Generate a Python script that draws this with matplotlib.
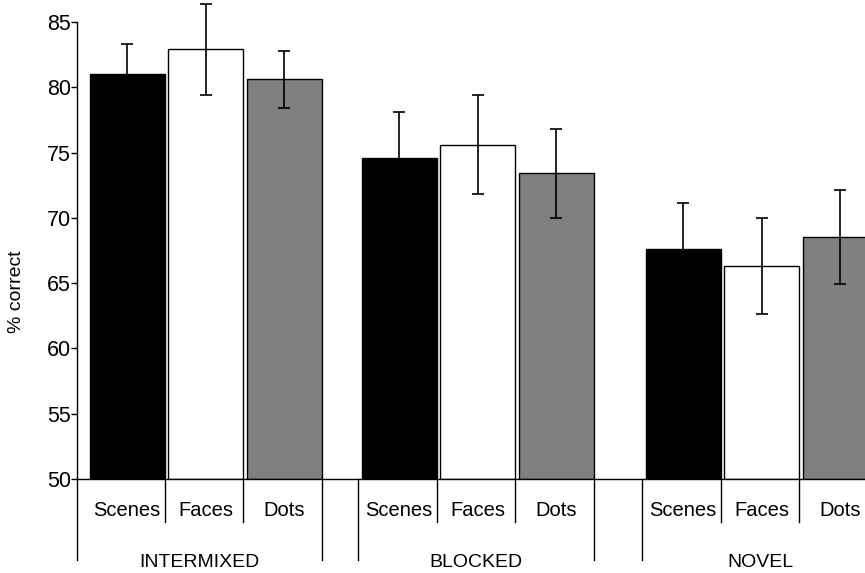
import numpy as np
import matplotlib.pyplot as plt

plt.rcParams['font.family'] = ['Liberation Sans', 'DejaVu Sans']

# data
groups = ["INTERMIXED", "BLOCKED", "NOVEL"]
stimuli = ["Scenes", "Faces", "Dots"]
means = [[81.0, 82.9, 80.6],
         [74.6, 75.6, 73.4],
         [67.6, 66.3, 68.5]]
errors = [[2.3, 3.5, 2.2],
          [3.5, 3.8, 3.4],
          [3.5, 3.7, 3.6]]
colors = ["black", "white", "#808080"]

# layout (x in pixel-like units from the y axis)
group_left = [11, 283, 567]
pitch = 78.5
width = 75
gap = pitch - width

fig = plt.figure(figsize=(8.65, 5.73), dpi=100)
ax = fig.add_axes([77 / 865, 94 / 573, 788 / 865, 457 / 573])

for g in range(len(groups)):
    for i in range(len(stimuli)):
        x = group_left[g] + (i + 0.5) * pitch
        ax.bar(x, means[g][i] - 50, width=width, bottom=50, color=colors[i],
               edgecolor="black", linewidth=1.0, zorder=2)
        ax.errorbar(x, means[g][i], yerr=errors[g][i], color="black",
                    elinewidth=1.2, capsize=4, capthick=1.2, zorder=3, clip_on=False)

ax.set_xlim(0, 788)
ax.set_ylim(50, 85)
ax.set_yticks(np.arange(50, 86, 5))
ax.tick_params(axis="y", labelsize=15.5, length=4, width=1, direction="out", pad=0.5)
ax.set_xticks([])
for s in ["top", "right"]:
    ax.spines[s].set_visible(False)
ax.spines["left"].set_linewidth(1)
ax.spines["bottom"].set_linewidth(1)

ax.set_ylabel("% correct", fontsize=14)
ax.yaxis.set_label_coords(-0.066, 0.41)

trans = ax.get_xaxis_transform()
for g in range(len(groups)):
    left = group_left[g] - gap / 2 if g > 0 else 0
    right = group_left[g] + 3 * pitch - gap / 2
    for xl in [left, right]:
        ax.plot([xl, xl], [0, -0.177], transform=trans, color="black",
                linewidth=1, clip_on=False)
    for k in [1, 2]:
        xs = group_left[g] + k * pitch - gap / 2
        ax.plot([xs, xs], [0, -0.094], transform=trans, color="black",
                linewidth=1, clip_on=False)
    for i in range(len(stimuli)):
        x = group_left[g] + (i + 0.5) * pitch
        ax.text(x, -0.068, stimuli[i], transform=trans, ha="center", va="center",
                fontsize=14.5)
    ax.text((left + right) / 2, -0.182, groups[g], transform=trans, ha="center",
            va="center", fontsize=14)

fig.savefig("out.png", dpi=100)
